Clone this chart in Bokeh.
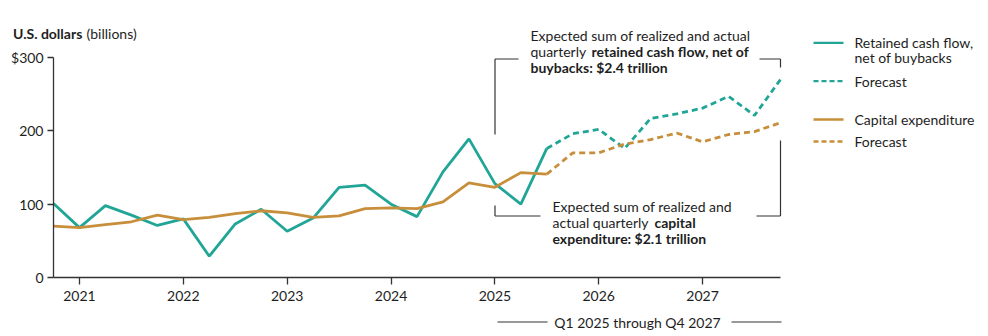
from bokeh.plotting import figure
from bokeh.models import Label, Arrow, FixedTicker, Range1d, LinearAxis
from bokeh.embed import file_html
from bokeh.resources import INLINE

# ---- data ----
quarters = ["2020 Q4",
            "2021 Q1", "2021 Q2", "2021 Q3", "2021 Q4",
            "2022 Q1", "2022 Q2", "2022 Q3", "2022 Q4",
            "2023 Q1", "2023 Q2", "2023 Q3", "2023 Q4",
            "2024 Q1", "2024 Q2", "2024 Q3", "2024 Q4",
            "2025 Q1", "2025 Q2", "2025 Q3", "2025 Q4",
            "2026 Q1", "2026 Q2", "2026 Q3", "2026 Q4",
            "2027 Q1", "2027 Q2", "2027 Q3", "2027 Q4"]
retained_cash_flow = [101, 68, 98, 85, 71, 80, 29, 73, 93, 63, 81, 123, 126, 100, 83,
                      144, 189, 128, 100, 176, 196, 202, 176, 217, 223, 231, 247, 221, 270]
capital_expenditure = [70, 68, 72, 76, 85, 79, 82, 87, 91, 88, 82, 84, 94, 95, 94,
                       103, 129, 123, 143, 141, 170, 170, 182, 188, 197, 185, 195, 199, 211]
first_forecast = "2025 Q3"   # forecast (dashed) from this quarter onward
year_ticks = [2021, 2022, 2023, 2024, 2025, 2026, 2027]
y_ticks = [0, 100, 200, 300]
y_tick_labels = ["0", "100", "200", "$300"]

def qpos(q):
    y, qq = q.split(" Q")
    return int(y) + (int(qq) - 1) / 4

xs = [qpos(q) for q in quarters]
split = quarters.index(first_forecast)

TEAL = "#20a596"
GOLD = "#c78f3b"
INK = "#1e1e1e"
AX = "#333333"
FONT = "Lato"
FS = "14px"
LW = 2.8
DASH = "6 4"

W, H = 988, 336
# plot area (axes box) in screen pixels
PL, PR, PT, PB = 53, 780, 57, 277
X0, X1 = 2020.75, 2027.75
Y0, Y1 = 0, 300
sx = (PR - PL) / (X1 - X0)
sy = (PB - PT) / (Y1 - Y0)

def dx(px):
    return X0 + (px - PL) / sx
def dy(py):
    return Y0 + (PB - py) / sy

# frame covers the whole canvas; axes sit at fixed locations inside it
p = figure(width=W, height=H, x_range=Range1d(dx(0), dx(W)), y_range=Range1d(dy(H), dy(0)),
           output_backend="svg", toolbar_location=None,
           x_axis_type=None, y_axis_type=None,
           min_border_left=0, min_border_right=0, min_border_top=0, min_border_bottom=0)
p.outline_line_color = None
p.grid.visible = False
p.background_fill_color = "white"
p.border_fill_color = "white"

# ---- series ----
p.line(xs[:split + 1], retained_cash_flow[:split + 1], line_color=TEAL, line_width=LW)
p.line(xs[split:], retained_cash_flow[split:], line_color=TEAL, line_width=LW, line_dash=DASH)
p.line(xs[:split + 1], capital_expenditure[:split + 1], line_color=GOLD, line_width=LW)
p.line(xs[split:], capital_expenditure[split:], line_color=GOLD, line_width=LW, line_dash=DASH)

# ---- axes ----
yax = LinearAxis(fixed_location=X0, bounds=(Y0, Y1), ticker=FixedTicker(ticks=y_ticks))
yax.major_label_overrides = {t: l for t, l in zip(y_ticks, y_tick_labels)}
yax.major_tick_out = 6
yax.major_label_standoff = 4
xax = LinearAxis(fixed_location=Y0, bounds=(X0, X1), ticker=FixedTicker(ticks=year_ticks))
xax.major_label_overrides = {y: str(y) for y in year_ticks}
xax.major_tick_out = 7
xax.major_label_standoff = 6
for ax in (xax, yax):
    ax.axis_line_color = AX
    ax.axis_line_width = 1.3
    ax.major_tick_line_color = AX
    ax.major_tick_line_width = 1.3
    ax.major_tick_in = 0
    ax.minor_tick_line_color = None
    ax.major_label_text_font = FONT
    ax.major_label_text_font_size = FS
    ax.major_label_text_color = INK
p.add_layout(yax, "left")
p.add_layout(xax, "below")

def label(px, py, text, bold=False, color=INK, size=FS, align="left"):
    p.add_layout(Label(x=dx(px), y=dy(py), text=text, text_font=FONT,
                       text_font_size=size, text_color=color,
                       text_font_style="bold" if bold else "normal",
                       text_align=align, text_baseline="middle"))

def seg(x0, y0, x1, y1, color=AX, width=1.2, dash="solid"):
    p.add_layout(Arrow(x_start=dx(x0), y_start=dy(y0), x_end=dx(x1), y_end=dy(y1),
                       start=None, end=None, line_color=color, line_width=width,
                       line_dash=dash))

# y-axis title
label(12.5, 32.5, "U.S. dollars", bold=True)
label(86, 32.5, "(billions)")

# top annotation
label(530, 35, "Expected sum of realized and actual")
label(530, 50.7, "quarterly")
label(591, 50.7, "retained cash flow, net of", bold=True)
label(530, 66.5, "buybacks: $2.4 trillion", bold=True)
# bottom annotation
label(552, 206, "Expected sum of realized and")
label(552, 222.3, "actual quarterly")
label(654, 222.3, "capital", bold=True)
label(552, 238.3, "expenditure: $2.1 trillion", bold=True)

# brackets
seg(494.5, 134, 494.5, 58.5)
seg(494.5, 58.5, 518, 58.5)
seg(759, 58.5, 780, 58.5)
seg(780, 58.5, 780, 67)
seg(494.5, 205, 494.5, 215.5)
seg(494.5, 215.5, 540, 215.5)
seg(756, 215.5, 780, 215.5)
seg(780, 215.5, 780, 140)

# period bracket below axis
label(637, 321.7, "Q1 2025 through Q4 2027", align="center")
seg(497, 321.5, 547, 321.5)
seg(731, 321.5, 781, 321.5)

# legend
LLW = 2.3
LDASH = "5 3"
seg(813, 42.3, 843, 42.3, color=TEAL, width=LLW)
label(854, 42.3, "Retained cash flow,")
label(854, 57.3, "net of buybacks")
seg(813, 80.7, 843, 80.7, color=TEAL, width=LLW, dash=LDASH)
label(854, 80.7, "Forecast")
seg(813, 119, 843, 119, color=GOLD, width=LLW)
label(854, 119, "Capital expenditure")
seg(813, 141, 843, 141, color=GOLD, width=LLW, dash=LDASH)
label(854, 141, "Forecast")

open("out.html", "w").write(file_html(p, INLINE))
